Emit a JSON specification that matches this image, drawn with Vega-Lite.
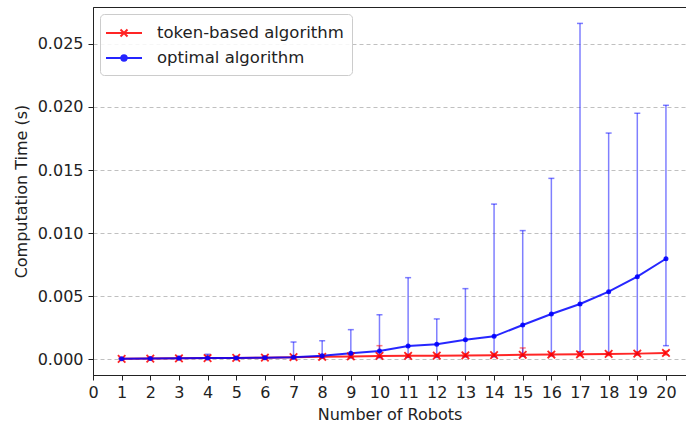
{
  "$schema": "https://vega.github.io/schema/vega-lite/v6.json",
  "autosize": {"type": "none"},
  "padding": {"left": 93, "top": 7, "right": 0, "bottom": 55},
  "width": 593,
  "height": 368,
  "background": "white",
  "data": {"values": [
    {"robots": 1, "algo": "token-based algorithm", "mean": 0.00004, "lo": 0.00002, "hi": 0.00008},
    {"robots": 2, "algo": "token-based algorithm", "mean": 0.00006, "lo": 0.00003, "hi": 0.0001},
    {"robots": 3, "algo": "token-based algorithm", "mean": 0.00008, "lo": 0.00004, "hi": 0.00015},
    {"robots": 4, "algo": "token-based algorithm", "mean": 0.0001, "lo": 0.00005, "hi": 0.0003},
    {"robots": 5, "algo": "token-based algorithm", "mean": 0.00011, "lo": 0.00006, "hi": 0.00018},
    {"robots": 6, "algo": "token-based algorithm", "mean": 0.00013, "lo": 0.00007, "hi": 0.0002},
    {"robots": 7, "algo": "token-based algorithm", "mean": 0.00017, "lo": 0.0001, "hi": 0.00025},
    {"robots": 8, "algo": "token-based algorithm", "mean": 0.0002, "lo": 0.00012, "hi": 0.0003},
    {"robots": 9, "algo": "token-based algorithm", "mean": 0.00023, "lo": 0.00014, "hi": 0.00035},
    {"robots": 10, "algo": "token-based algorithm", "mean": 0.00027, "lo": 0.00016, "hi": 0.00108},
    {"robots": 11, "algo": "token-based algorithm", "mean": 0.00028, "lo": 0.00018, "hi": 0.0004},
    {"robots": 12, "algo": "token-based algorithm", "mean": 0.00029, "lo": 0.0002, "hi": 0.0004},
    {"robots": 13, "algo": "token-based algorithm", "mean": 0.00031, "lo": 0.0002, "hi": 0.00045},
    {"robots": 14, "algo": "token-based algorithm", "mean": 0.00033, "lo": 0.00022, "hi": 0.00045},
    {"robots": 15, "algo": "token-based algorithm", "mean": 0.00036, "lo": 0.00024, "hi": 0.0009},
    {"robots": 16, "algo": "token-based algorithm", "mean": 0.00038, "lo": 0.00026, "hi": 0.0005},
    {"robots": 17, "algo": "token-based algorithm", "mean": 0.0004, "lo": 0.00028, "hi": 0.00055},
    {"robots": 18, "algo": "token-based algorithm", "mean": 0.00043, "lo": 0.0003, "hi": 0.00055},
    {"robots": 19, "algo": "token-based algorithm", "mean": 0.00045, "lo": 0.00032, "hi": 0.0006},
    {"robots": 20, "algo": "token-based algorithm", "mean": 0.0005, "lo": 0.00035, "hi": 0.00065},
    {"robots": 1, "algo": "optimal algorithm", "mean": 0.00004, "lo": 0.00002, "hi": 0.00008},
    {"robots": 2, "algo": "optimal algorithm", "mean": 0.00006, "lo": 0.00003, "hi": 0.0001},
    {"robots": 3, "algo": "optimal algorithm", "mean": 0.00008, "lo": 0.00004, "hi": 0.00025},
    {"robots": 4, "algo": "optimal algorithm", "mean": 0.00011, "lo": 0.00005, "hi": 0.0004},
    {"robots": 5, "algo": "optimal algorithm", "mean": 0.0001, "lo": 0.00005, "hi": 0.0002},
    {"robots": 6, "algo": "optimal algorithm", "mean": 0.00013, "lo": 0.00006, "hi": 0.00025},
    {"robots": 7, "algo": "optimal algorithm", "mean": 0.00017, "lo": 0.00006, "hi": 0.00137},
    {"robots": 8, "algo": "optimal algorithm", "mean": 0.00029, "lo": 0.00008, "hi": 0.00147},
    {"robots": 9, "algo": "optimal algorithm", "mean": 0.00048, "lo": 0.0001, "hi": 0.00235},
    {"robots": 10, "algo": "optimal algorithm", "mean": 0.00066, "lo": 0.00012, "hi": 0.00353},
    {"robots": 11, "algo": "optimal algorithm", "mean": 0.00105, "lo": 0.00015, "hi": 0.00647},
    {"robots": 12, "algo": "optimal algorithm", "mean": 0.00119, "lo": 0.00015, "hi": 0.0032},
    {"robots": 13, "algo": "optimal algorithm", "mean": 0.00155, "lo": 0.0002, "hi": 0.0056},
    {"robots": 14, "algo": "optimal algorithm", "mean": 0.00182, "lo": 0.0002, "hi": 0.0123},
    {"robots": 15, "algo": "optimal algorithm", "mean": 0.00272, "lo": 0.00025, "hi": 0.0102},
    {"robots": 16, "algo": "optimal algorithm", "mean": 0.00359, "lo": 0.0003, "hi": 0.01434},
    {"robots": 17, "algo": "optimal algorithm", "mean": 0.00438, "lo": 0.0006, "hi": 0.02662},
    {"robots": 18, "algo": "optimal algorithm", "mean": 0.00536, "lo": 0.0004, "hi": 0.01793},
    {"robots": 19, "algo": "optimal algorithm", "mean": 0.00655, "lo": 0.0004, "hi": 0.0195},
    {"robots": 20, "algo": "optimal algorithm", "mean": 0.00797, "lo": 0.00108, "hi": 0.02013}
  ]},
  "encoding": {
    "x": {
      "field": "robots", "type": "quantitative",
      "scale": {"domain": [0, 20.7], "nice": false, "zero": false},
      "axis": {"values": [0,1,2,3,4,5,6,7,8,9,10,11,12,13,14,15,16,17,18,19,20], "title": "Number of Robots", "grid": false, "labelPadding": 4, "titlePadding": 6, "labelFlush": false}
    },
    "color": {
      "field": "algo", "type": "nominal",
      "scale": {"domain": ["token-based algorithm", "optimal algorithm"], "range": ["#ff0000", "#0000ff"]},
      "legend": {
        "title": null,
        "orient": "top-left",
        "offset": 7,
        "padding": 8,
        "strokeColor": "#cccccc",
        "fillColor": "rgba(255,255,255,0.85)",
        "cornerRadius": 4,
        "labelFontSize": 16.5,
        "labelColor": "#222",
        "labelLimit": 400,
        "symbolSize": 400,
        "symbolStrokeWidth": 2,
        "symbolOffset": 5,
        "labelOffset": 22,
        "rowPadding": 5,
        "encoding": {
          "symbols": {
            "shape": {"value": {"expr": "datum.value === 'optimal algorithm' ? 'M-1.8,0H1.8M0.27,0A0.27,0.27,0,1,1,-0.27,0A0.27,0.27,0,1,1,0.27,0' : 'M-1.8,0H1.8M-0.35,-0.35L0.35,0.35M-0.35,0.35L0.35,-0.35'"}},
            "fill": {"value": {"expr": "datum.value === 'optimal algorithm' ? '#0000ff' : 'transparent'"}},
            "stroke": {"value": {"expr": "datum.value === 'optimal algorithm' ? '#0000ff' : '#ff0000'"}},
            "strokeWidth": {"value": 2},
            "opacity": {"value": 0.85}
          }
        }
      }
    }
  },
  "layer": [
    {
      "mark": {"type": "rule", "strokeWidth": 1.5, "opacity": 0.5},
      "encoding": {
        "y": {"field": "lo", "type": "quantitative", "scale": {"domain": [-0.001244, 0.02792], "nice": false, "zero": false}, "axis": {"values": [0, 0.005, 0.01, 0.015, 0.02, 0.025], "format": ".3f", "title": "Computation Time (s)", "grid": true, "gridDash": [4, 3], "gridColor": "#b0b0b0", "gridWidth": 0.8, "labelPadding": 5, "titlePadding": 8}},
        "y2": {"field": "hi"}
      }
    },
    {
      "mark": {"type": "tick", "orient": "horizontal", "size": 6, "thickness": 1.5, "opacity": 0.5},
      "encoding": {"y": {"field": "hi", "type": "quantitative"}}
    },
    {
      "mark": {"type": "tick", "orient": "horizontal", "size": 6, "thickness": 1.5, "opacity": 0.5},
      "encoding": {"y": {"field": "lo", "type": "quantitative"}}
    },
    {
      "mark": {"type": "line", "strokeWidth": 2, "opacity": 0.85},
      "encoding": {"y": {"field": "mean", "type": "quantitative"}}
    },
    {
      "transform": [{"filter": "datum.algo === 'token-based algorithm'"}],
      "mark": {"type": "point", "shape": "M-1,-1L1,1M-1,1L1,-1", "size": 56, "filled": false, "strokeWidth": 1.8, "opacity": 0.85},
      "encoding": {"y": {"field": "mean", "type": "quantitative"}}
    },
    {
      "transform": [{"filter": "datum.algo === 'optimal algorithm'"}],
      "mark": {"type": "point", "shape": "circle", "size": 25, "filled": true, "opacity": 0.9},
      "encoding": {"y": {"field": "mean", "type": "quantitative"}}
    }
  ],
  "config": {
    "font": "DejaVu Sans",
    "view": {"stroke": "#222", "strokeWidth": 1},
    "axis": {"labelFontSize": 16, "titleFontSize": 16, "titleFontWeight": "normal", "labelColor": "#222", "titleColor": "#222", "domainColor": "#222", "tickColor": "#222", "tickSize": 5, "domainWidth": 1, "labelFont": "DejaVu Sans", "titleFont": "DejaVu Sans"},
    "legend": {"labelFont": "DejaVu Sans"}
  }
}
